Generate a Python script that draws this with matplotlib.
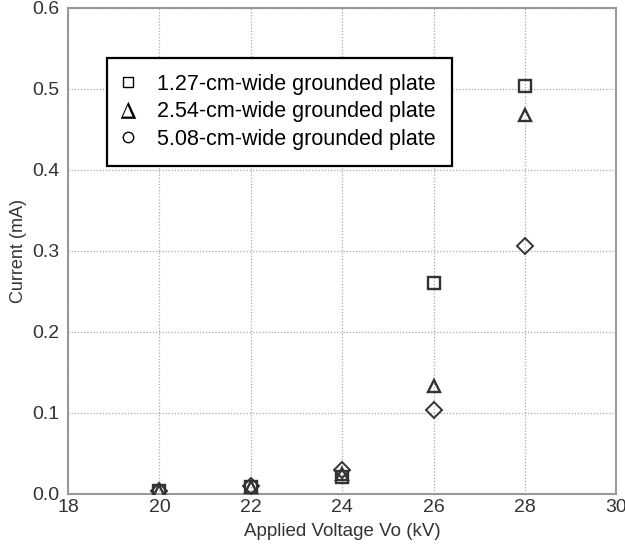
import matplotlib
matplotlib.use('Agg')
from matplotlib import pyplot as plt
from matplotlib.lines import Line2D

plt.rcParams['font.family'] = ['Liberation Sans', 'DejaVu Sans']
plt.rcParams['mathtext.fontset'] = 'stix'

voltage = [20, 22, 24, 26, 28]
current_127 = [0.003, 0.008, 0.021, 0.260, 0.503]
current_254 = [0.004, 0.009, 0.025, 0.133, 0.467]
current_508 = [0.004, 0.010, 0.030, 0.103, 0.306]

labels = ['1.27-cm-wide grounded plate',
          '2.54-cm-wide grounded plate',
          '5.08-cm-wide grounded plate']

x_ticks = [18, 20, 22, 24, 26, 28, 30]
y_ticks = [0.0, 0.1, 0.2, 0.3, 0.4, 0.5, 0.6]

mark_col = '#333333'

fig = plt.figure(figsize=(6.25, 5.5), dpi=100)
ax = fig.add_axes([0.109, 0.102, 0.877, 0.884])

ax.plot(voltage, current_127, ls='none', marker='s', ms=8.5, mfc='none',
        mec=mark_col, mew=1.7, zorder=3)
ax.plot(voltage, current_254, ls='none', marker='^', ms=9, mfc='none',
        mec=mark_col, mew=1.7, zorder=3)
ax.plot(voltage, current_508, ls='none', marker='D', ms=8, mfc='none',
        mec=mark_col, mew=1.4, zorder=3)

ax.set_xlim(18, 30)
ax.set_ylim(0, 0.6)
ax.set_xticks(x_ticks)
ax.set_yticks(y_ticks)
ax.set_xticklabels([str(t) for t in x_ticks])
ax.set_yticklabels(['%.1f' % t for t in y_ticks])
ax.tick_params(length=0, labelsize=14, colors='#333333')
ax.tick_params(axis='x', pad=4)
ax.tick_params(axis='y', pad=6)

ax.grid(True, ls=(0, (1, 1.5)), color='#aaaaaa', lw=0.9)
for s in ax.spines.values():
    s.set_color('#999999')
    s.set_linewidth(1.5)

ax.set_xlabel('Applied Voltage Vo (kV)', fontsize=13.5, color='#333333', labelpad=5)
ax.set_ylabel('Current (mA)', fontsize=13, color='#333333', labelpad=4)

handles = [Line2D([], [], ls='none', marker='s', ms=7.5, mfc='none', mec='black', mew=1.0),
           Line2D([], [], ls='none', marker=r'$\Delta$', ms=12, color='black', mew=0),
           Line2D([], [], ls='none', marker='o', ms=7.5, mfc='none', mec='black', mew=1.0)]
leg = ax.legend(handles, labels, loc='upper left', bbox_to_anchor=(0.0712, 0.897),
                fontsize=15.5, fancybox=False, framealpha=1, edgecolor='black',
                handlelength=0.4, handletextpad=1.18, borderpad=0.75,
                labelspacing=0.3, borderaxespad=0)
leg.get_frame().set_linewidth(1.6)
for t in leg.get_texts():
    t.set_color('black')

fig.savefig('out.png', dpi=100)
